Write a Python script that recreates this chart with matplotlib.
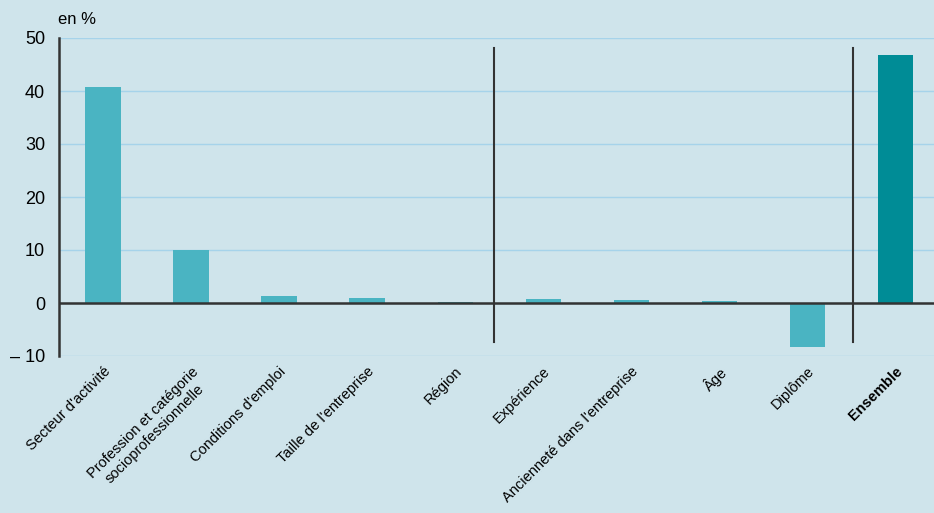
import matplotlib.pyplot as plt

categories = ["Secteur d'activité", "Profession et catégorie\nsocioprofessionnelle",
              "Conditions d'emploi", "Taille de l'entreprise", "Région",
              "Expérience", "Ancienneté dans l'entreprise", "Âge", "Diplôme", "Ensemble"]
values = [40.8, 10.0, 1.3, 0.9, 0.15, 0.8, 0.6, 0.4, -8.3, 46.8]
yticks = [-10, 0, 10, 20, 30, 40, 50]
separators = [4.44, 8.52]

plt.rcParams['font.family'] = ['Liberation Sans', 'DejaVu Sans']

bg = '#cfe4eb'
fig = plt.figure(figsize=(9.34, 5.13), dpi=100, facecolor=bg)
ax = fig.add_axes([59 / 934, 1 - 356 / 513, 1 - 59 / 934, 318 / 513])
ax.set_facecolor(bg)

colors = ['#4ab4c2'] * 9 + ['#008c96']
x = list(range(len(categories)))
ax.bar(x, values, width=0.4, color=colors, zorder=3)

for y in yticks:
    ax.axhline(y, color='#a6d3ea', lw=1, zorder=1)
ax.axhline(0, color='#333333', lw=1.8, zorder=4)
for s in separators:
    ax.plot([s, s], [-7.3, 48.1], color='#333333', lw=1.5, zorder=4)

ax.set_xlim(-0.5, 9.44)
ax.set_ylim(-10, 50)
ax.set_yticks(yticks)
ax.set_yticklabels(['\u2013 10' if v < 0 else str(v) for v in yticks], fontsize=13)
ax.tick_params(axis='y', length=0, pad=10)
ax.tick_params(axis='x', length=0)
ax.set_xticks(x)
ax.set_xticklabels(categories, rotation=45, ha='right', rotation_mode='anchor',
                   fontsize=10.5, ma='center')
ax.get_xticklabels()[-1].set_fontweight('bold')
ax.tick_params(axis='x', pad=6)

for sp in ['top', 'right', 'bottom']:
    ax.spines[sp].set_visible(False)
ax.spines['left'].set_color('#333333')
ax.spines['left'].set_linewidth(1.8)

fig.text(58 / 934, 1 - 20 / 513, 'en %', fontsize=12, va='center', ha='left')

fig.savefig('out.png', dpi=100, facecolor=bg)
